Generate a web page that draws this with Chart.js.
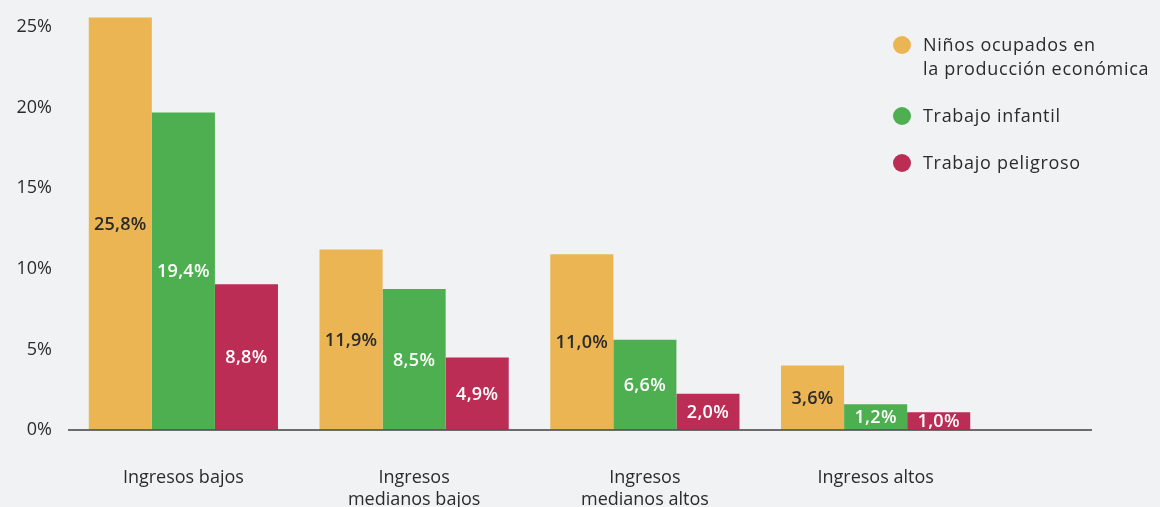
<!DOCTYPE html>
<html>
<head>
<meta charset="utf-8">
<script src="https://cdn.jsdelivr.net/npm/chart.js@4.4.1/dist/chart.umd.min.js"></script>
<style>
  html, body { margin: 0; padding: 0; background: #f1f2f4; overflow: hidden; }
  #wrap { position: relative; width: 1160px; height: 507px; overflow: hidden; }
  canvas { display: block; }
  #legend { position: absolute; left: 892px; top: 32px; font-family: "Open Sans", sans-serif; font-size: 18px; letter-spacing: 0.7px; color: #2b2b2b; }
  .item { position: relative; padding-left: 31px; line-height: 24px; margin-bottom: 23px; }
  .dot { position: absolute; left: 1px; top: 4px; width: 18px; height: 18px; border-radius: 50%; }
</style>
</head>
<body>
<div id="wrap">
  <canvas id="chart" width="1160" height="516"></canvas>
  <div id="legend"></div>
</div>
<script>
// Categories (x axis)
const categories = [
  'Ingresos bajos',
  ['Ingresos', 'medianos bajos'],
  ['Ingresos', 'medianos altos'],
  'Ingresos altos'
];

const seriesNames = ['Niños ocupados en\nla producción económica', 'Trabajo infantil', 'Trabajo peligroso'];

// bar heights as drawn in the picture (%)
const ocupados = [25.6, 11.2, 10.9, 4.0];
const infantil = [19.7, 8.75, 5.6, 1.6];
const peligroso = [9.05, 4.5, 2.25, 1.1];

// printed labels
const ocupadosLabels = ['25,8%', '11,9%', '11,0%', '3,6%'];
const infantilLabels = ['19,4%', '8,5%', '6,6%', '1,2%'];
const peligrosoLabels = ['8,8%', '4,9%', '2,0%', '1,0%'];

const yTicks = [0, 5, 10, 15, 20, 25];

const colors = {
  ocupados: '#ebb553',
  infantil: '#4daf50',
  peligroso: '#bb2d55',
  text: '#2b2b2b'
};

const labelSets = [ocupadosLabels, infantilLabels, peligrosoLabels];
const labelColors = [colors.text, '#ffffff', '#ffffff'];

// value labels inside bars + baseline on top
const barLabels = {
  id: 'barLabels',
  afterDatasetsDraw(chart) {
    const ctx = chart.ctx;
    ctx.save();
    ctx.font = '600 18px "Open Sans", sans-serif';
    ctx.letterSpacing = '0.3px';
    ctx.textAlign = 'center';
    ctx.textBaseline = 'middle';
    chart.data.datasets.forEach((ds, i) => {
      chart.getDatasetMeta(i).data.forEach((bar, j) => {
        ctx.fillStyle = labelColors[i];
        ctx.fillText(labelSets[i][j], bar.x, (bar.y + bar.base) / 2 + 1);
      });
    });
    // x axis line, runs past the last group
    const y0 = chart.scales.y.getPixelForValue(0);
    ctx.letterSpacing = '0px';
    ctx.strokeStyle = 'rgba(85,85,85,0.85)';
    ctx.lineWidth = 2;
    ctx.beginPath();
    ctx.moveTo(chart.chartArea.left, y0);
    ctx.lineTo(chart.chartArea.right + 101, y0);
    ctx.stroke();
    ctx.restore();
  }
};

const ctx = document.getElementById('chart').getContext('2d');
new Chart(ctx, {
  type: 'bar',
  data: {
    labels: categories,
    datasets: [
      { label: seriesNames[0], data: ocupados, backgroundColor: colors.ocupados },
      { label: seriesNames[1], data: infantil, backgroundColor: colors.infantil },
      { label: seriesNames[2], data: peligroso, backgroundColor: colors.peligroso }
    ]
  },
  options: {
    responsive: false,
    animation: false,
    layout: { padding: { left: 12, right: 169, top: 11, bottom: 6 } },
    datasets: { bar: { categoryPercentage: 0.82, barPercentage: 1.0 } },
    plugins: {
      legend: { display: false },
      tooltip: { enabled: false }
    },
    scales: {
      x: {
        grid: { display: false, drawTicks: false },
        border: { display: false },
        afterFit: s => { s.height = 80; s.paddingLeft = 0; s.paddingRight = 0; },
        ticks: {
          color: colors.text,
          padding: 37,
          maxRotation: 0,
          autoSkip: false,
          font: { family: '"Open Sans", sans-serif', size: 18, lineHeight: 1.2 }
        }
      },
      y: {
        min: 0,
        max: 26,
        grid: { display: false, drawTicks: false },
        border: { display: false },
        afterBuildTicks: s => { s.ticks = yTicks.map(v => ({ value: v })); },
        afterFit: s => { s.width = 56; s.paddingTop = 0; s.paddingBottom = 0; },
        ticks: {
          color: colors.text,
          padding: 16,
          callback: v => v + '%',
          font: { family: '"Open Sans", sans-serif', size: 18 }
        }
      }
    }
  },
  plugins: [barLabels]
});

// legend
const legendColors = [colors.ocupados, colors.infantil, colors.peligroso];
document.getElementById('legend').innerHTML = seriesNames.map((name, i) => `
  <div class="item"><span class="dot" style="background:${legendColors[i]}"></span>${name.replace('\n', '<br>')}</div>
`).join('');
</script>
</body>
</html>
